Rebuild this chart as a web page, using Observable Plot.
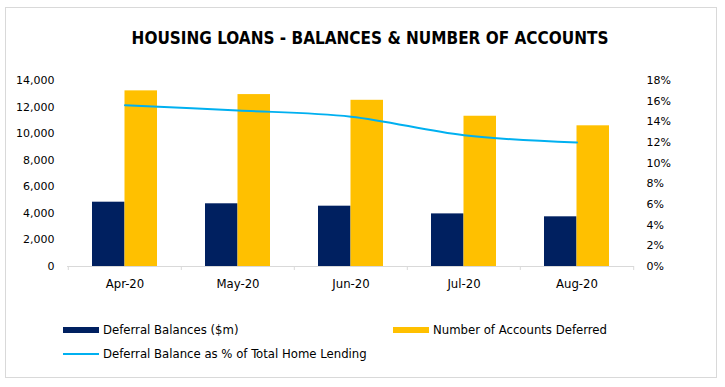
<!DOCTYPE html>
<html>
<head>
<meta charset="utf-8">
<script src="https://cdn.jsdelivr.net/npm/d3@7"></script>
<script src="https://cdn.jsdelivr.net/npm/@observablehq/plot@0.6"></script>
<style>
  html, body { margin: 0; padding: 0; background: #fff; }
  #wrap { position: relative; width: 725px; height: 387px; overflow: hidden; font-family: "DejaVu Sans Condensed", "DejaVu Sans", sans-serif; }
  #frame { position: absolute; left: 5px; top: 7px; width: 710px; height: 369px; border: 1px solid #d9d9d9; box-sizing: content-box; }
  #title { position: absolute; left: 0; top: 27px; width: 740px; text-align: center; font-weight: bold; font-size: 17px; color: #000; line-height: 22px; }
  #chart { position: absolute; left: 0; top: 0; }
  .leg { position: absolute; font-size: 13px; color: #000; line-height: 14px; white-space: nowrap; }
  .sw { position: absolute; }
</style>
</head>
<body>
<div id="wrap">
  <div id="frame"></div>
  <div id="title">HOUSING LOANS - BALANCES &amp; NUMBER OF ACCOUNTS</div>
  <div id="chart"></div>
  <div class="sw" style="left:63px; top:327px; width:36px; height:6px; background:#002060;"></div>
  <div class="leg" style="left:103px; top:323px;">Deferral Balances ($m)</div>
  <div class="sw" style="left:393px; top:327px; width:36px; height:6px; background:#FFC000;"></div>
  <div class="leg" style="left:433px; top:323px;">Number of Accounts Deferred</div>
  <div class="sw" style="left:63px; top:353px; width:36px; height:2px; background:#00B0F0;"></div>
  <div class="leg" style="left:103px; top:347px;">Deferral Balance as % of Total Home Lending</div>
</div>
<script>
const months = ["Apr-20", "May-20", "Jun-20", "Jul-20", "Aug-20"];
const balances = [4840, 4720, 4540, 3960, 3740];
const accounts = [13220, 12940, 12510, 11310, 10590];
const pctOfLending = [15.6, 15.1, 14.5, 12.7, 12.0];
const leftTicks = [0, 2000, 4000, 6000, 8000, 10000, 12000, 14000];
const pctTicks = [0, 2, 4, 6, 8, 10, 12, 14, 16, 18];

const leftMax = 14000, pctMax = 18;
const toLeft = p => p * leftMax / pctMax;

const data = months.map((m, i) => ({month: m, bal: balances[i], acc: accounts[i], pct: pctOfLending[i]}));

const W = 725, H = 300, mL = 67, mR = 91, mT = 80, mB = 34;
const step = (W - mL - mR) / months.length;
const pIn = 1 - 65 / step;

const chart = Plot.plot({
  width: W, height: H,
  marginLeft: mL, marginRight: mR, marginTop: mT, marginBottom: mB,
  style: {background: "transparent", fontFamily: "\"DejaVu Sans\", sans-serif", fontSize: "11px", color: "#000"},
  x: {type: "band", domain: months, paddingInner: pIn, paddingOuter: pIn / 2, align: 0.5},
  y: {domain: [0, leftMax], range: [H - mB, mT]},
  marks: [
    Plot.barY(data, {x: "month", y: "bal", fill: "#002060", insetRight: 32.5}),
    Plot.barY(data, {x: "month", y: "acc", fill: "#FFC000", insetLeft: 32.5}),
    Plot.ruleY([0], {stroke: "#d9d9d9", strokeWidth: 1}),
    Plot.ruleX(months, {x: d => d, y1: 0, y2: 0, insetBottom: -4, dx: -step / 2, stroke: "#d9d9d9"}),
    Plot.ruleX([months[months.length - 1]], {x: d => d, y1: 0, y2: 0, insetBottom: -4, dx: step / 2, stroke: "#d9d9d9"}),
    Plot.lineY(data, {x: "month", y: d => toLeft(d.pct), stroke: "#00B0F0", strokeWidth: 2, curve: "catmull-rom"}),
    Plot.axisY(leftTicks, {anchor: "left", tickFormat: d3.format(","), tickSize: 0, tickPadding: 13, label: null, fontSize: 11}),
    Plot.axisY(pctTicks.map(toLeft), {anchor: "right", tickFormat: d => Math.round(d * pctMax / leftMax) + "%", tickSize: 0, tickPadding: 12, label: null, fontSize: 11}),
    Plot.axisX({tickSize: 0, tickPadding: 12, label: null, fontSize: 13, fontFamily: "\"DejaVu Sans Condensed\", \"DejaVu Sans\", sans-serif"})
  ]
});
document.getElementById("chart").appendChild(chart);
</script>
</body>
</html>
